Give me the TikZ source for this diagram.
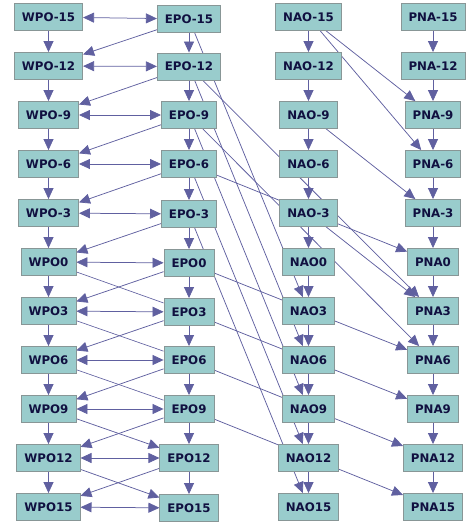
\documentclass[tikz,border=0pt]{standalone}
\usepackage{fontspec}
\setmainfont{DejaVu Sans}
\usetikzlibrary{arrows.meta,backgrounds}
\definecolor{boxfill}{RGB}{153,204,204}
\definecolor{boxline}{RGB}{136,150,150}
\definecolor{txt}{RGB}{16,16,64}
\definecolor{edge}{RGB}{96,96,160}
\begin{document}
\begin{tikzpicture}[x=1pt,y=-1pt,
  var/.style={draw=boxline,fill=boxfill,line width=0.9pt,minimum height=27pt,
    inner xsep=7.5pt,inner ysep=0pt,font=\bfseries\fontsize{11.8}{13}\selectfont,text=txt},
  tip/.tip={Triangle[length=11pt,width=10pt]},
  arr/.style={draw=edge,line width=0.75pt,-tip},
  biarr/.style={draw=edge,line width=0.75pt,tip-tip},
  ln/.style={draw=edge,line width=0.65pt}]
\useasboundingbox (0,0) rectangle (466,523);
\foreach \n/\l/\y in {m15/-15/17,m12/-12/66,m9/-9/115,m6/-6/164,m3/-3/213,0/0/262,
                      p3/3/311,p6/6/360,p9/9/409,p12/12/458,p15/15/507}{
  \node[var] (W\n) at (48.5,\y) {WPO\l};
  \node[var] (N\n) at (308.5,\y) {NAO\l};
  \node[var] (P\n) at (433,\y) {PNA\l};
}
\foreach \n/\l/\y in {m15/-15/19,m12/-12/66.5,m9/-9/115,m6/-6/164,m3/-3/214,0/0/263,
                      p3/3/312,p6/6/360,p9/9/409,p12/12/458,p15/15/508}{
  \node[var] (E\n) at (189,\y) {EPO\l};
}
\begin{pgfonlayer}{background}
% vertical chains and EPO -> WPO next row
\foreach \a/\b in {m15/m12,m12/m9,m9/m6,m6/m3,m3/0,0/p3,p3/p6,p6/p9,p9/p12,p12/p15}{
  \draw[arr] (W\a) -- (W\b);
  \draw[arr] (E\a) -- (E\b);
  \draw[arr] (N\a) -- (N\b);
  \draw[arr] (P\a) -- (P\b);
  \draw[arr] (E\a) -- (W\b);
}
% WPO <-> EPO
\foreach \a in {m15,m12,m9,m6,m3,0,p3,p6,p9,p12,p15}{
  \draw[biarr] (W\a) -- (E\a);
}
% WPO -> EPO next row
\foreach \a/\b in {0/p3,p3/p6,p6/p9}{ \draw[ln] (W\a) -- (E\b); }
\foreach \a/\b in {p9/p12,p12/p15}{ \draw[arr] (W\a) -- (E\b); }
% EPO -> NAO (lag 18)
\foreach \a/\b in {m15/p3,m12/p6,m9/p9,m6/p12,m3/p15}{ \draw[arr] (E\a) -- (N\b); }
% EPO -> PNA (lag 6)
\foreach \a/\b in {m6/0,0/p6,p3/p9,p6/p12,p9/p15}{ \draw[arr] (E\a) -- (P\b); }
% EPO -> PNA (lag 15)
\draw[arr] (Em12) -- (Pp3);
\draw[arr] (Em9) -- (Pp6);
% NAO -> PNA
\draw[arr] (Nm15) -- (Pm9);
\draw[arr] (Nm15) -- (Pm6);
\draw[arr] (Nm9) -- (Pm3);
\draw[arr] (Nm3) -- (Pp3);
\end{pgfonlayer}
\end{tikzpicture}
\end{document}
